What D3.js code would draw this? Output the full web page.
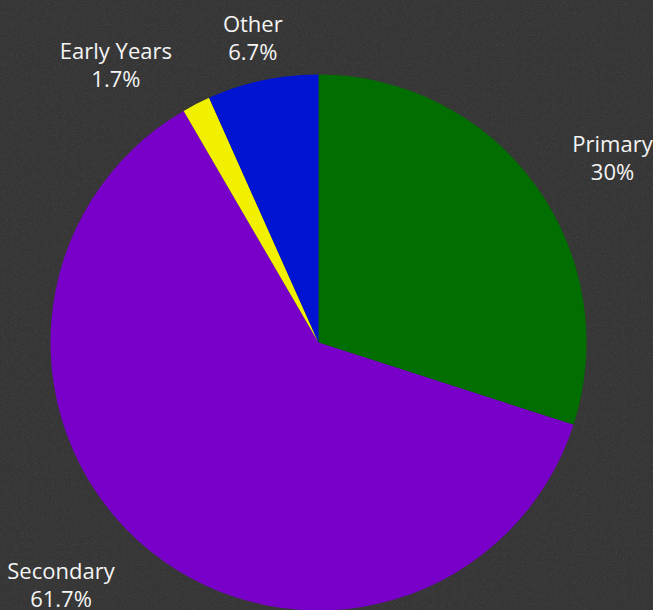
<!DOCTYPE html>
<html><head><meta charset="utf-8">
<script src="https://cdn.jsdelivr.net/npm/d3@7/dist/d3.min.js"></script>
<style>html,body{margin:0;padding:0;background:#393939;}svg{display:block;}</style>
</head><body>
<script>
const categories = ["Primary", "Secondary", "Early Years", "Other"];
const values = [30, 61.7, 1.7, 6.7];
const valueLabels = ["30%", "61.7%", "1.7%", "6.7%"];
const colors = ["#006e00", "#7800c8", "#f0f000", "#0014d2"];

// label layout (angle in degrees from top, distance from centre) — layout only
const labelLayout = {
  "Primary": [58.8, 343.7],
  "Secondary": [226.0, 358],
  "Early Years": [323.3, 339],
  "Other": [347.6, 306]
};

const W = 653, H = 610, cx = 318.5, cy = 342.5, R = 268;
const svg = d3.select("body").append("svg").attr("width", W).attr("height", H);

const defs = svg.append("defs");
const f = defs.append("filter").attr("id", "grain").attr("x", 0).attr("y", 0).attr("width", "100%").attr("height", "100%");
f.append("feTurbulence").attr("type", "fractalNoise").attr("baseFrequency", 0.9).attr("numOctaves", 2).attr("seed", 3).attr("result", "n");
f.append("feColorMatrix").attr("in", "n").attr("type", "matrix")
  .attr("values", "0 0 0 0 1  0 0 0 0 1  0 0 0 0 1  0 0 0 -1.6 0.75");
svg.append("rect").attr("width", W).attr("height", H).attr("fill", "#363636");
svg.append("rect").attr("width", W).attr("height", H).attr("fill", "#fff").attr("filter", "url(#grain)").attr("opacity", 0.14);

const data = categories.map((c, i) => ({name: c, value: values[i], label: valueLabels[i], color: colors[i]}));
const pie = d3.pie().value(d => d.value).sort(null);
const arc = d3.arc().innerRadius(0).outerRadius(R);
const g = svg.append("g").attr("transform", `translate(${cx},${cy})`);
g.selectAll("path").data(pie(data)).join("path")
  .attr("d", arc).attr("fill", d => d.data.color);

const lg = g.selectAll("text.lbl").data(pie(data)).join("text")
  .attr("class", "lbl")
  .attr("text-anchor", "middle")
  .attr("fill", "#f4f4f4")
  .style("font-family", "'Open Sans', sans-serif")
  .style("font-size", "22px")
  .attr("transform", d => {
    const [a, r] = labelLayout[d.data.name];
    const p = d3.pointRadial(a * Math.PI / 180, r);
    return `translate(${p[0]},${p[1]})`;
  });
lg.append("tspan").attr("x", 0).attr("y", -12).text(d => d.data.name);
lg.append("tspan").attr("x", 0).attr("y", 16).text(d => d.data.label);
</script>
</body></html>
